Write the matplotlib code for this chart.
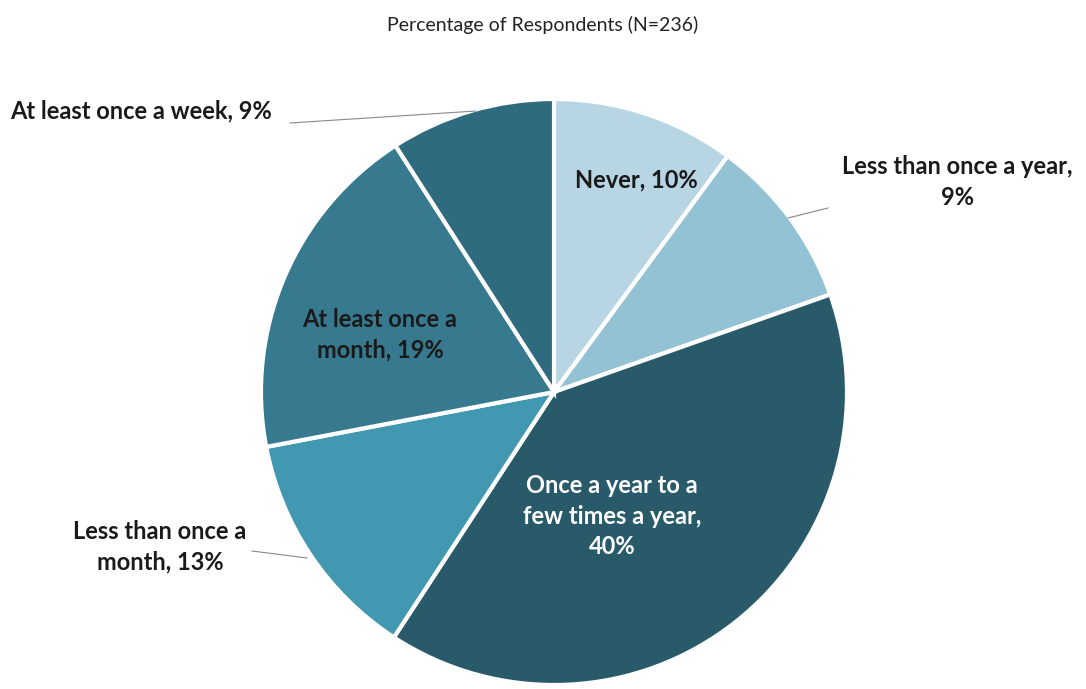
import numpy as np
import matplotlib.pyplot as plt

# slices, clockwise from 12 o'clock
categories = ["Never", "Less than once a year", "Once a year to a few times a year",
              "Less than once a month", "At least once a month", "At least once a week"]
values = [10.1, 9.5, 39.6, 12.8, 18.9, 9.1]
pct_labels = ["10%", "9%", "40%", "13%", "19%", "9%"]
colors = ["#B7D5E2", "#93C2D5", "#285A6A", "#4398B1", "#37798F", "#2E6B7E"]

W, H = 1086, 689
cx, cy, r = 554, 392, 293  # pie centre / radius in pixels


def px(x, y):
    # pixel position -> data coords of the pie axes
    return (x - cx) / r, (cy - y) / r


plt.rcParams['font.family'] = ['Lato', 'DejaVu Sans']
fig = plt.figure(figsize=(W / 100, H / 100), dpi=100, facecolor='white')
fig.text(0.5, 1 - 25 / H, "Percentage of Respondents (N=236)", ha='center', va='center',
         fontsize=14, color='#222222')

ax = fig.add_axes([(cx - r) / W, (H - cy - r) / H, 2 * r / W, 2 * r / H])
wedges, _ = ax.pie(values, colors=colors, startangle=90, counterclock=False, radius=1,
                   wedgeprops=dict(edgecolor='white', linewidth=3))
ax.set_xlim(-1, 1)
ax.set_ylim(-1, 1)
ax.axis('off')

lab_kw = dict(ha='center', va='center', fontsize=17, fontweight='bold', linespacing=1.4)

# inside labels
ax.text(*px(636, 180), f"Never, {pct_labels[0]}", color='#1a1a1a', **lab_kw)
ax.text(*px(612, 516), f"Once a year to a\nfew times a year,\n{pct_labels[2]}", color='white', **lab_kw)
ax.text(*px(380, 335), f"At least once a\nmonth, {pct_labels[4]}", color='#1a1a1a', **lab_kw)

# outside labels with leader lines
ax.text(*px(957, 182), f"Less than once a year,\n{pct_labels[1]}", color='#1a1a1a', clip_on=False, **lab_kw)
ax.plot(*zip(px(788, 218), px(828, 208)), color='#888888', lw=0.8, clip_on=False)

ax.text(*px(160, 547), f"Less than once a\nmonth, {pct_labels[3]}", color='#1a1a1a', clip_on=False, **lab_kw)
ax.plot(*zip(px(252, 551), px(307, 558)), color='#888888', lw=0.8, clip_on=False)

ax.text(*px(10, 111), f"At least once a week, {pct_labels[5]}", color='#1a1a1a', clip_on=False,
        ha='left', va='center', fontsize=17, fontweight='bold')
ax.plot(*zip(px(290, 123), px(476, 111)), color='#888888', lw=0.8, clip_on=False)

fig.savefig("out.png", dpi=100, facecolor='white')
